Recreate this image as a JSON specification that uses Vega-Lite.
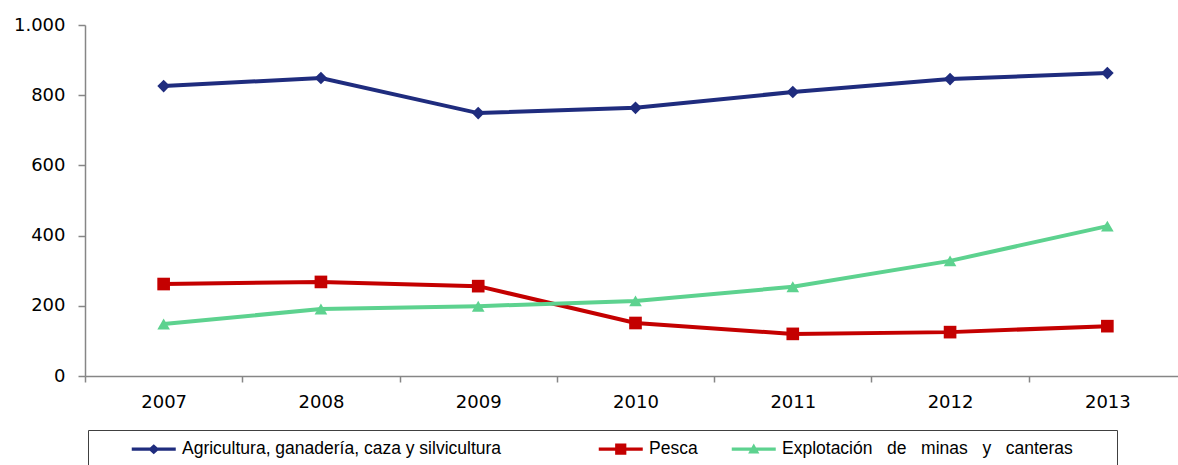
{
  "$schema": "https://vega.github.io/schema/vega-lite/v6.json",
  "width": 1093,
  "height": 351,
  "autosize": {"type": "none"},
  "padding": {"left": 85, "top": 25, "right": 0, "bottom": 89},
  "background": "white",
  "config": {
    "view": {"stroke": null},
    "axis": {
      "domainColor": "#868686",
      "tickColor": "#868686",
      "domainWidth": 1.5,
      "tickWidth": 1.5,
      "grid": false,
      "labelFont": "DejaVu Sans",
      "labelFontSize": 18,
      "labelColor": "#000000",
      "title": null
    }
  },
  "data": {
    "values": [
      {"year": "2007", "serie": "Agricultura, ganadería, caza y silvicultura", "value": 826},
      {"year": "2008", "serie": "Agricultura, ganadería, caza y silvicultura", "value": 849},
      {"year": "2009", "serie": "Agricultura, ganadería, caza y silvicultura", "value": 749},
      {"year": "2010", "serie": "Agricultura, ganadería, caza y silvicultura", "value": 764},
      {"year": "2011", "serie": "Agricultura, ganadería, caza y silvicultura", "value": 809},
      {"year": "2012", "serie": "Agricultura, ganadería, caza y silvicultura", "value": 846},
      {"year": "2013", "serie": "Agricultura, ganadería, caza y silvicultura", "value": 863},
      {"year": "2007", "serie": "Pesca", "value": 262},
      {"year": "2008", "serie": "Pesca", "value": 268},
      {"year": "2009", "serie": "Pesca", "value": 256},
      {"year": "2010", "serie": "Pesca", "value": 151},
      {"year": "2011", "serie": "Pesca", "value": 120},
      {"year": "2012", "serie": "Pesca", "value": 125},
      {"year": "2013", "serie": "Pesca", "value": 142},
      {"year": "2007", "serie": "Explotación de minas y canteras", "value": 148},
      {"year": "2008", "serie": "Explotación de minas y canteras", "value": 191},
      {"year": "2009", "serie": "Explotación de minas y canteras", "value": 199},
      {"year": "2010", "serie": "Explotación de minas y canteras", "value": 214},
      {"year": "2011", "serie": "Explotación de minas y canteras", "value": 254},
      {"year": "2012", "serie": "Explotación de minas y canteras", "value": 328},
      {"year": "2013", "serie": "Explotación de minas y canteras", "value": 427}
    ]
  },
  "encoding": {
    "x": {
      "field": "year",
      "type": "ordinal",
      "scale": {"type": "band", "range": [0, 1101], "paddingInner": 0, "paddingOuter": 0},
      "axis": {"labelAngle": 0, "tickBand": "extent", "tickSize": 6, "labelPadding": 11}
    },
    "y": {
      "field": "value",
      "type": "quantitative",
      "scale": {"domain": [0, 1000], "nice": false},
      "axis": {
        "values": [0, 200, 400, 600, 800, 1000],
        "labelExpr": "replace(format(datum.value, ','), ',', '.')",
        "tickSize": 7,
        "labelPadding": 13
      }
    }
  },
  "resolve": {"scale": {"color": "independent", "shape": "independent"}},
  "layer": [
    {
      "layer": [
        {
          "mark": {"type": "line", "strokeWidth": 4},
          "encoding": {
            "color": {
              "field": "serie",
              "type": "nominal",
              "scale": {
                "domain": ["Agricultura, ganadería, caza y silvicultura", "Pesca", "Explotación de minas y canteras"],
                "range": ["#1F2C7E", "#C40000", "#5DD28F"]
              },
              "legend": {
                "orient": "none",
                "legendX": 3,
                "legendY": 405,
                "direction": "horizontal",
                "title": null,
                "strokeColor": "#404040",
                "padding": 10,
                "columnPadding": -38,
                "symbolSize": 64,
                "symbolOpacity": 1,
                "symbolStrokeWidth": 0,
                "labelOffset": 66.5,
                "labelFont": "Liberation Sans",
                "labelFontSize": 17.5,
                "labelColor": "#000000",
                "labelLimit": 0,
                "labelExpr": "datum.value === 'Pesca' ? datum.label : (datum.value === 'Agricultura, ganadería, caza y silvicultura' ? datum.label + '\u00a0\u00a0\u00a0\u00a0\u00a0\u00a0\u00a0\u00a0\u00a0\u00a0\u00a0\u00a0\u00a0\u200b' : replace(datum.label, regexp(' ', 'g'), '\u00a0\u00a0\u00a0') + '\u00a0\u00a0\u00a0\u00a0\u00a0\u00a0\u00a0\u200b')"
              }
            }
          }
        },
        {
          "transform": [{"filter": "datum.value < 0"}],
          "mark": {"type": "point", "filled": true, "opacity": 1, "size": 64},
          "encoding": {
            "color": {
              "field": "serie",
              "type": "nominal",
              "scale": {
                "domain": ["Agricultura, ganadería, caza y silvicultura", "Pesca", "Explotación de minas y canteras"],
                "range": ["#1F2C7E", "#C40000", "#5DD28F"]
              }
            },
            "shape": {
              "field": "serie",
              "type": "nominal",
              "scale": {
                "domain": ["Agricultura, ganadería, caza y silvicultura", "Pesca", "Explotación de minas y canteras"],
                "range": [
                  "M6.25,-0.4H17.25V0.4H6.25ZM11.75,-1.25L13.15,0L11.75,1.25L10.35,0Z",
                  "M6.25,-0.4H17.25V0.4H6.25ZM10.35,-1.4H13.15V1.4H10.35Z",
                  "M6.25,-0.4H17.25V0.4H6.25ZM11.75,-1.4L13.15,1.1H10.35Z"
                ]
              }
            }
          }
        }
      ]
    },
    {
      "mark": {"type": "point", "filled": true, "opacity": 1, "size": 160},
      "encoding": {
        "color": {
          "field": "serie",
          "type": "nominal",
          "scale": {
            "domain": ["Agricultura, ganadería, caza y silvicultura", "Pesca", "Explotación de minas y canteras"],
            "range": ["#1F2C7E", "#C40000", "#5DD28F"]
          },
          "legend": null
        },
        "shape": {
          "field": "serie",
          "type": "nominal",
          "scale": {
            "domain": ["Agricultura, ganadería, caza y silvicultura", "Pesca", "Explotación de minas y canteras"],
            "range": ["diamond", "square", "triangle-up"]
          },
          "legend": null
        }
      }
    }
  ]
}
